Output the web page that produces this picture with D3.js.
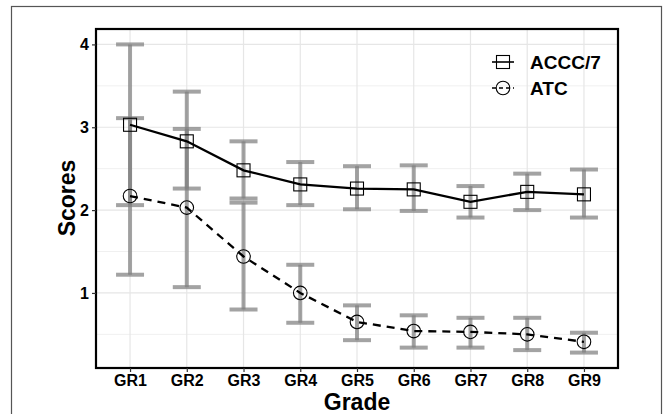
<!DOCTYPE html>
<html>
<head>
<meta charset="utf-8">
<script src="https://cdn.jsdelivr.net/npm/d3@7"></script>
<style>
  body { margin: 0; background: #fff; }
  text { font-family: "Liberation Sans", Arial, sans-serif; font-weight: bold; fill: #000; }
</style>
</head>
<body>
<script>
// categories and series
var grades = ["GR1", "GR2", "GR3", "GR4", "GR5", "GR6", "GR7", "GR8", "GR9"];
var acccMean = [3.03, 2.83, 2.48, 2.31, 2.26, 2.25, 2.10, 2.22, 2.19];
var acccLow  = [2.06, 2.26, 2.14, 2.06, 2.01, 1.99, 1.91, 2.00, 1.91];
var acccHigh = [4.00, 3.43, 2.83, 2.58, 2.53, 2.54, 2.29, 2.44, 2.49];
var atcMean = [2.17, 2.03, 1.44, 1.00, 0.65, 0.54, 0.53, 0.50, 0.41];
var atcLow  = [1.22, 1.07, 0.80, 0.64, 0.43, 0.34, 0.34, 0.31, 0.28];
var atcHigh = [3.11, 2.98, 2.09, 1.34, 0.85, 0.73, 0.70, 0.70, 0.52];
var yTicks = [1, 2, 3, 4];
var yMinor = [0.5, 1.5, 2.5, 3.5];
var seriesNames = ["ACCC/7", "ATC"];

var width = 670, height = 414;
var panel = {left: 96, right: 618, top: 29, bottom: 368};

var svg = d3.select("body").append("svg")
    .attr("width", width)
    .attr("height", height);

// figure frame
svg.append("rect")
    .attr("x", 11.5).attr("y", 6.5)
    .attr("width", 650).attr("height", 420)
    .attr("fill", "none")
    .attr("stroke", "#555")
    .attr("stroke-width", 1.2);

var x = d3.scalePoint().domain(grades)
    .range([panel.left, panel.right]).padding(0.6);
var y = d3.scaleLinear().domain([0.094, 4.186])
    .range([panel.bottom, panel.top]);

// grid
var grid = svg.append("g");
grid.selectAll("line.minor").data(yMinor).enter().append("line")
    .attr("x1", panel.left).attr("x2", panel.right)
    .attr("y1", function(d) { return y(d); }).attr("y2", function(d) { return y(d); })
    .attr("stroke", "#f0f0f0").attr("stroke-width", 1);
grid.selectAll("line.major").data(yTicks).enter().append("line")
    .attr("x1", panel.left).attr("x2", panel.right)
    .attr("y1", function(d) { return y(d); }).attr("y2", function(d) { return y(d); })
    .attr("stroke", "#e6e6e6").attr("stroke-width", 1.2);
grid.selectAll("line.vert").data(grades).enter().append("line")
    .attr("y1", panel.top).attr("y2", panel.bottom)
    .attr("x1", function(d) { return x(d); }).attr("x2", function(d) { return x(d); })
    .attr("stroke", "#e6e6e6").attr("stroke-width", 1.2);

// build rows for each series
function rows(mean, low, high) {
  return grades.map(function(g, i) {
    return {g: g, m: mean[i], lo: low[i], hi: high[i]};
  });
}
var accc = rows(acccMean, acccLow, acccHigh);
var atc = rows(atcMean, atcLow, atcHigh);

// error bars
function errorBars(data) {
  var g = svg.append("g")
      .attr("stroke", "#808080")
      .attr("stroke-opacity", 0.72)
      .attr("stroke-width", 4);
  var w = 14;
  g.selectAll("line.v").data(data).enter().append("line")
      .attr("x1", function(d) { return x(d.g); }).attr("x2", function(d) { return x(d.g); })
      .attr("y1", function(d) { return y(d.lo); }).attr("y2", function(d) { return y(d.hi); });
  g.selectAll("line.top").data(data).enter().append("line")
      .attr("x1", function(d) { return x(d.g) - w; }).attr("x2", function(d) { return x(d.g) + w; })
      .attr("y1", function(d) { return y(d.hi); }).attr("y2", function(d) { return y(d.hi); });
  g.selectAll("line.bot").data(data).enter().append("line")
      .attr("x1", function(d) { return x(d.g) - w; }).attr("x2", function(d) { return x(d.g) + w; })
      .attr("y1", function(d) { return y(d.lo); }).attr("y2", function(d) { return y(d.lo); });
}
errorBars(accc);
errorBars(atc);

// lines
var line = d3.line()
    .x(function(d) { return x(d.g); })
    .y(function(d) { return y(d.m); });

svg.append("path").datum(accc)
    .attr("d", line)
    .attr("fill", "none").attr("stroke", "#000").attr("stroke-width", 2.3);
svg.append("path").datum(atc)
    .attr("d", line)
    .attr("fill", "none").attr("stroke", "#000").attr("stroke-width", 2.3)
    .attr("stroke-dasharray", "8,6");

// points
var s = 13;
svg.selectAll("rect.pt").data(accc).enter().append("rect")
    .attr("x", function(d) { return x(d.g) - s / 2; })
    .attr("y", function(d) { return y(d.m) - s / 2; })
    .attr("width", s).attr("height", s)
    .attr("fill", "none").attr("stroke", "#000").attr("stroke-width", 1.1);
svg.selectAll("circle.pt").data(atc).enter().append("circle")
    .attr("cx", function(d) { return x(d.g); })
    .attr("cy", function(d) { return y(d.m); })
    .attr("r", 6.8)
    .attr("fill", "none").attr("stroke", "#000").attr("stroke-width", 1.1);

// panel border
svg.append("rect")
    .attr("x", panel.left).attr("y", panel.top)
    .attr("width", panel.right - panel.left).attr("height", panel.bottom - panel.top)
    .attr("fill", "none").attr("stroke", "#000").attr("stroke-width", 2.2);

// axes
var xAxis = svg.append("g")
    .attr("transform", "translate(0," + panel.bottom + ")")
    .call(d3.axisBottom(x).tickSize(4).tickPadding(3));
var yAxis = svg.append("g")
    .attr("transform", "translate(" + panel.left + ",0)")
    .call(d3.axisLeft(y).tickValues(yTicks).tickFormat(d3.format("d")).tickSize(4).tickPadding(3));
[xAxis, yAxis].forEach(function(a) {
  a.select(".domain").remove();
  a.selectAll(".tick line").attr("stroke", "#333").attr("stroke-width", 1.2);
  a.selectAll(".tick text").style("font-size", "16px")
      .style("font-family", "'Liberation Sans', Arial, sans-serif")
      .style("font-weight", "bold").attr("fill", "#000");
});

// axis titles
svg.append("text")
    .attr("x", 357).attr("y", 410)
    .attr("text-anchor", "middle")
    .style("font-size", "23px")
    .text("Grade");
svg.append("text")
    .attr("transform", "translate(75,198) rotate(-90)")
    .attr("text-anchor", "middle")
    .style("font-size", "23px")
    .text("Scores");

// legend
var legend = svg.append("g");
var keyY = [62, 88];
seriesNames.forEach(function(name, i) {
  var k = legend.append("g").attr("transform", "translate(0," + keyY[i] + ")");
  k.append("line").attr("x1", 492).attr("x2", 514).attr("y1", 0).attr("y2", 0)
      .attr("stroke", "#000").attr("stroke-width", 1.6)
      .attr("stroke-dasharray", i == 1 ? "4,3" : null);
  if (i == 0) {
    k.append("rect").attr("x", 503 - 6.5).attr("y", -6.5).attr("width", 13).attr("height", 13)
        .attr("fill", "none").attr("stroke", "#000").attr("stroke-width", 1.1);
  } else {
    k.append("circle").attr("cx", 503).attr("cy", 0).attr("r", 6.8)
        .attr("fill", "none").attr("stroke", "#000").attr("stroke-width", 1.1);
  }
  k.append("text").attr("x", 530).attr("y", 7)
      .style("font-size", "19px")
      .text(name);
});
</script>
</body>
</html>
